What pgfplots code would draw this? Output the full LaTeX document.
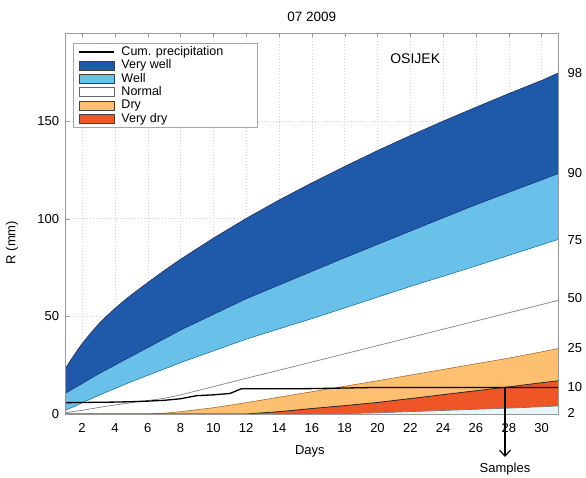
\documentclass[border=0pt]{standalone}
\usepackage{pgfplots}
\pgfplotsset{compat=1.18}
\usepackage{pgfplotstable}
\usepackage{fontspec}
\setmainfont{Liberation Sans}
\usetikzlibrary{arrows.meta}

\definecolor{vwell}{RGB}{31,90,170}
\definecolor{vwelledge}{RGB}{20,50,110}
\definecolor{well}{RGB}{105,192,232}
\definecolor{welledge}{RGB}{30,110,150}
\definecolor{dry}{RGB}{253,192,112}
\definecolor{dryedge}{RGB}{165,110,45}
\definecolor{vdry}{RGB}{238,86,40}
\definecolor{xdry}{RGB}{232,246,250}

\pgfplotsset{
  boxleg/.style={legend image code/.code={\draw[##1] (0pt,-4.5pt) rectangle (35pt,4.5pt);}},
  lineleg/.style={legend image code/.code={\draw[##1] (0pt,0pt) -- (35pt,0pt);}},
}

\pgfplotstableread{
x p98 p90 p75 p50 p25 p10 p2
1 23.5 10.7 2.0 0.7 0 0 0
1.25 26.9 12.0 2.9 1.0 0 0 0
1.5 30.0 13.2 3.8 1.3 0 0 0
1.75 33.1 14.4 4.75 1.6 0 0 0
2 36.0 15.6 5.7 1.9 0 0 0
2.5 41.2 18.1 7.6 2.6 0 0 0
3 46.0 20.5 9.5 3.3 0 0 0
3.5 50.2 22.8 11.3 4.0 0 0 0
4 54.0 25.0 13.0 4.6 0 0 0
4.5 57.6 27.3 14.8 5.2 0 0 0
5 61.0 29.5 16.5 5.8 0 0 0
6 67.3 34.0 19.8 6.9 0 0 0
7 73.4 38.5 23.0 8.0 0.4 0 0
8 79.2 43.0 26.3 9.8 1.2 0 0
10 90.0 51.0 32.3 14.0 3.2 0 0
12 100.1 59.0 38.3 18.3 5.8 0 0
14 109.5 66.0 43.6 22.4 8.6 1.2 0
16 118.3 73.0 48.8 26.6 11.4 2.8 0
18 126.7 80.0 54.3 30.8 14.2 4.3 0.2
20 134.8 86.8 59.8 35.0 17.0 5.9 0.6
22 142.5 93.6 65.3 39.2 19.9 7.9 1.2
24 149.9 100.4 70.5 43.4 22.8 9.9 1.8
26 157.0 107.1 75.8 47.6 25.7 11.9 2.4
28 164.0 113.5 81.2 51.8 28.6 13.9 3.0
30 170.7 119.8 86.6 56.0 31.8 16.0 3.7
31 174.5 123.0 89.3 58.2 33.5 17.0 4.1
}\bands

\pgfplotstableread{
x r
1 5.8
2 5.9
3 6.0
4 6.1
5 6.3
6 6.6
7 7.0
8 7.8
9 9.4
10 9.8
11 10.5
11.7 12.9
14 12.9
16 13.0
18 13.3
20 13.6
31 13.6
}\precip

\begin{document}
\begin{tikzpicture}
\useasboundingbox (0,0) rectangle (586pt,477pt);
\begin{axis}[
  at={(65.7pt,63pt)}, anchor=south west,
  scale only axis, width=492.3pt, height=381pt,
  xmin=1, xmax=31, ymin=0, ymax=195,
  xtick={2,4,...,30}, ytick={0,50,100,150},
  grid=major, grid style={gray!35, dash pattern=on 1pt off 2pt},
  axis line style={gray!80},
  tick style={gray!80, major tick length=4pt},
  ytick pos=left, xtick pos=both,
  /pgf/number format/assume math mode=true,
  tick label style={font=\fontsize{13}{15}\selectfont},
  xticklabel style={yshift=-6pt},
  yticklabel style={xshift=-3pt},
  clip=false,
  title={07 2009},
  title style={at={(axis description cs:0.5,1.026)}, anchor=center, font=\fontsize{13.5}{15}\selectfont},
  xlabel={Days},
  xlabel style={at={(axis description cs:0.496,-0.098)}, anchor=center, font=\fontsize{13}{15}\selectfont},
  ylabel={R (mm)},
  ylabel style={at={(axis description cs:-0.109,0.45)}, anchor=center, font=\fontsize{13}{15}\selectfont},
  legend cell align=left,
  legend style={at={(axis description cs:0.0148,0.974)}, anchor=north west,
    draw=gray!70, line width=0.8pt, fill=white,
    font=\fontsize{12.5}{14}\selectfont,
    inner xsep=5pt, inner ysep=2pt, row sep=0pt, column sep=6pt,
    nodes={inner sep=0.6pt, text height=9.4pt, text depth=2.8pt}},
]
% filled bands
\addplot[fill=vwell, draw=none, forget plot] table[x=x,y=p98]{\bands} \closedcycle;
\addplot[fill=well, draw=none, forget plot] table[x=x,y=p90]{\bands} \closedcycle;
\addplot[fill=white, draw=none, forget plot] table[x=x,y=p75]{\bands} \closedcycle;
\addplot[fill=dry, draw=none, forget plot] table[x=x,y=p25]{\bands} \closedcycle;
\addplot[fill=vdry, draw=none, forget plot] table[x=x,y=p10]{\bands} \closedcycle;
\addplot[fill=xdry, draw=none, forget plot] table[x=x,y=p2]{\bands} \closedcycle;
% edges
\addplot[vwelledge, line width=0.6pt, forget plot] table[x=x,y=p98]{\bands};
\addplot[vwelledge, line width=0.6pt, forget plot] table[x=x,y=p90]{\bands};
\addplot[welledge, line width=0.6pt, forget plot] table[x=x,y=p75]{\bands};
\addplot[gray, line width=0.7pt, forget plot] table[x=x,y=p50]{\bands};
\addplot[dryedge, line width=0.6pt, forget plot] table[x=x,y=p25]{\bands};
\addplot[black!85, line width=0.8pt, forget plot] table[x=x,y=p10]{\bands};
\addplot[black!55, line width=0.6pt, forget plot] table[x=x,y=p2]{\bands};
% precipitation
\addplot[black, line width=1.3pt, forget plot] table[x=x,y=r]{\precip};

% legend
\addlegendimage{black, line width=1.5pt, lineleg}
\addlegendentry{Cum. precipitation\hspace*{28pt}}
\addlegendimage{fill=vwell, draw=black!75, line width=0.8pt, boxleg}
\addlegendentry{Very well}
\addlegendimage{fill=well, draw=black!75, line width=0.8pt, boxleg}
\addlegendentry{Well}
\addlegendimage{fill=white, draw=black!60, line width=0.8pt, boxleg}
\addlegendentry{Normal}
\addlegendimage{fill=dry, draw=black!75, line width=0.8pt, boxleg}
\addlegendentry{Dry}
\addlegendimage{fill=vdry, draw=black!75, line width=0.8pt, boxleg}
\addlegendentry{Very dry}

% axis box on top
\draw[gray!80, line width=0.8pt] (rel axis cs:0,0) rectangle (rel axis cs:1,1);

% annotations
\node[font=\fontsize{14}{16}\selectfont] at (axis cs:22.3,182.1) {OSIJEK};
\draw[black, line width=1.2pt, -{Straight Barb[length=6pt,width=11pt]}] (axis cs:27.77,13.6) -- (axis cs:27.77,-22);
\node[font=\fontsize{13}{15}\selectfont] at (axis cs:27.77,-28.1) {Samples};
\begin{scope}[every node/.style={anchor=west, font=\fontsize{13}{15}\selectfont, xshift=6pt}]
\node at (axis cs:31,174.4) {98};
\node at (axis cs:31,123.3) {90};
\node at (axis cs:31,89) {75};
\node at (axis cs:31,59.3) {50};
\node at (axis cs:31,33.8) {25};
\node at (axis cs:31,13.8) {10};
\node at (axis cs:31,0.5) {2};
\end{scope}
\end{axis}
\end{tikzpicture}
\end{document}
